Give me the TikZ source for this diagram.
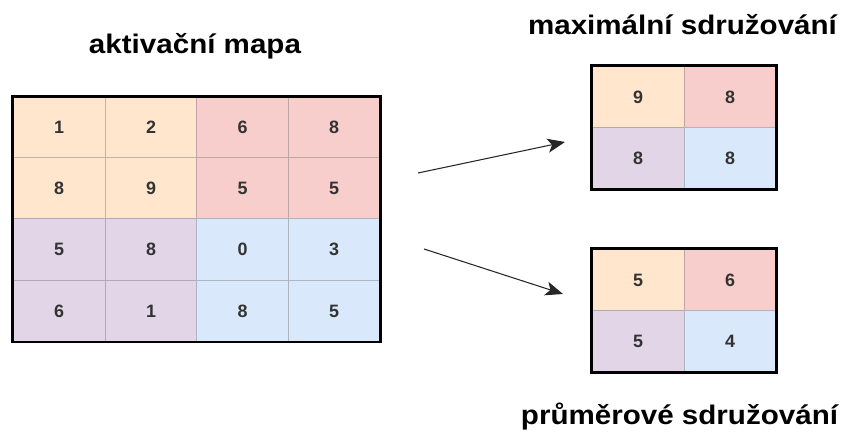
\documentclass[tikz,border=0pt]{standalone}
\usepackage{fontspec}
\setmainfont{Liberation Sans}
\newfontfamily\widesans[FakeStretch=1.1]{Liberation Sans}
\usetikzlibrary{arrows.meta}

\definecolor{peach}{HTML}{FFE6CC}
\definecolor{rose}{HTML}{F8CECC}
\definecolor{lilac}{HTML}{E1D5E7}
\definecolor{sky}{HTML}{DAE8FC}

\begin{document}
\begin{tikzpicture}[x=0.02cm, y=-0.02cm,
	cell/.style = {minimum width=1.835cm, minimum height=1.23cm, inner sep=0pt,
		text=black!80, font=\fontsize{10.2}{11}\selectfont\bfseries},
	orange/.style = {cell, fill=peach, draw=peach!70!black!80},
	red/.style = {cell, fill=rose, draw=rose!70!black!80},
	purple/.style = {cell, fill=lilac, draw=lilac!70!black!80},
	blue/.style = {cell, fill=sky, draw=sky!70!black!80},
	title/.style = {anchor=base, font=\widesans\fontsize{15.3}{16}\selectfont\bfseries},
	frame/.style = {draw=black, line width=1.6pt},
	pool/.style = {-{Stealth[length=10pt, width=8pt, inset=2.5pt]}, line width=0.6pt, black!85}]

	\useasboundingbox (0, 0) rectangle (849, 438);

	% Activation map
	\node[title] (map-title) at (195, 54) {aktivační mapa};

	\node[orange] (a11) at (59, 127.5) {1};
	\node[orange] (a12) at (151, 127.5) {2};
	\node[red] (a13) at (242.5, 127.5) {6};
	\node[red] (a14) at (334, 127.5) {8};

	\node[orange] (a21) at (59, 188.5) {8};
	\node[orange] (a22) at (151, 188.5) {9};
	\node[red] (a23) at (242.5, 188.5) {5};
	\node[red] (a24) at (334, 188.5) {5};

	\node[purple] (a31) at (59, 249.5) {5};
	\node[purple] (a32) at (151, 249.5) {8};
	\node[blue] (a33) at (242.5, 249.5) {0};
	\node[blue] (a34) at (334, 249.5) {3};

	\node[purple] (a41) at (59, 311) {6};
	\node[purple] (a42) at (151, 311) {1};
	\node[blue] (a43) at (242.5, 311) {8};
	\node[blue] (a44) at (334, 311) {5};

	\draw[frame] (a11.north west) rectangle (a44.south east);

	% Max pooling
	\node[title] (max-title) at (682.5, 35) {maximální sdružování};

	\node[orange] (m11) at (638, 97) {9};
	\node[red] (m12) at (730, 97) {8};
	\node[purple] (m21) at (638, 158.5) {8};
	\node[blue] (m22) at (730, 158.5) {8};

	\draw[frame] (m11.north west) rectangle (m22.south east);

	% Average pooling
	\node[title] (avg-title) at (679.5, 425) {průměrové sdružování};

	\node[orange] (p11) at (638, 280) {5};
	\node[red] (p12) at (730, 280) {6};
	\node[purple] (p21) at (638, 341.5) {5};
	\node[blue] (p22) at (730, 341.5) {4};

	\draw[frame] (p11.north west) rectangle (p22.south east);

	% Arrows
	\coordinate (max-from) at (418, 173);
	\coordinate (max-to) at (565, 142);
	\coordinate (avg-from) at (424, 249);
	\coordinate (avg-to) at (563, 294);

	\draw[pool] (max-from) -- (max-to);
	\draw[pool] (avg-from) -- (avg-to);

\end{tikzpicture}
\end{document}
